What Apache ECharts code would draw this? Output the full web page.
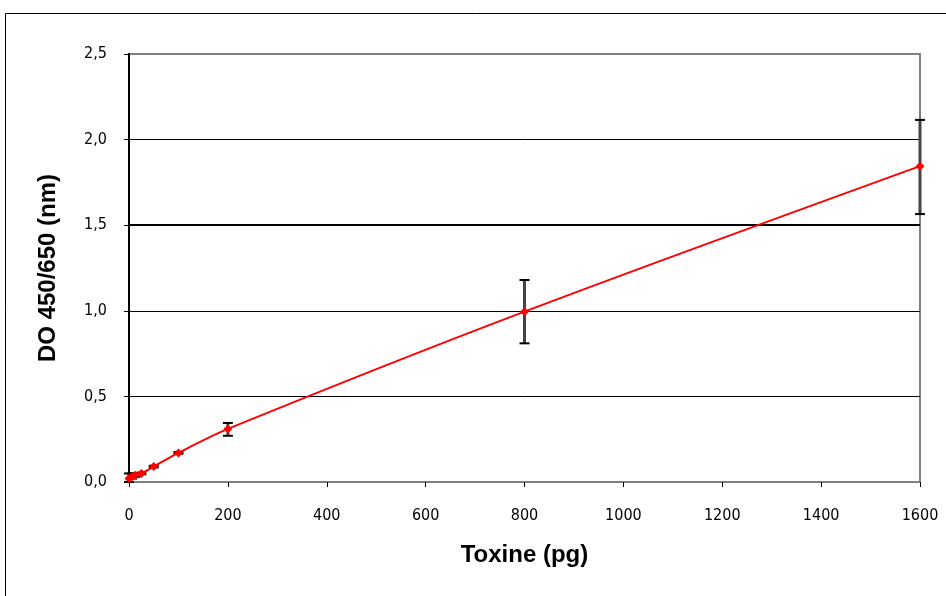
<!DOCTYPE html>
<html>
<head>
<meta charset="utf-8">
<script src="https://cdn.jsdelivr.net/npm/echarts@6/dist/echarts.min.js"></script>
<style>
  html, body { margin: 0; padding: 0; background: #fff; }
  #chart { width: 946px; height: 596px; }
</style>
</head>
<body>
<div id="chart"></div>
<script>
// toxine dose (pg) and optical density
var toxine = [0, 6.25, 12.5, 25, 50, 100, 200, 800, 1600];
var density = [0.02, 0.03, 0.04, 0.05, 0.09, 0.17, 0.31, 0.995, 1.845];
var errLow = [0.0, 0.02, 0.03, 0.045, 0.085, 0.165, 0.27, 0.81, 1.565];
var errHigh = [0.05, 0.05, 0.05, 0.055, 0.095, 0.175, 0.345, 1.18, 2.115];
var gridValues = [0.5, 1.0, 1.5, 2.0];

var chart = echarts.init(document.getElementById("chart"));

var points = toxine.map(function (x, i) { return [x, density[i]]; });
var bars = toxine.map(function (x, i) { return [x, errLow[i], errHigh[i]]; });

var labelFont = "Liberation Sans Narrow, DejaVu Sans Condensed, Liberation Sans";

var option = {
  animation: false,
  backgroundColor: "#fff",
  graphic: [
    {
      type: "rect",
      shape: { x: 5.5, y: 13.5, width: 960, height: 600 },
      style: { fill: "none", stroke: "#000", lineWidth: 1 },
      silent: true
    }
  ],
  grid: {
    left: 129,
    right: 26,
    top: 54,
    bottom: 114,
    show: true,
    borderColor: "#808080",
    borderWidth: 2,
    backgroundColor: "transparent"
  },
  xAxis: {
    type: "value",
    min: 0,
    max: 1600,
    interval: 200,
    name: "Toxine (pg)",
    nameLocation: "middle",
    nameGap: 61,
    nameTextStyle: { fontFamily: "Liberation Sans", fontWeight: "bold", fontSize: 24, color: "#000" },
    axisLine: { lineStyle: { color: "#808080", width: 2 } },
    axisTick: { show: true, length: 5, lineStyle: { color: "#000" } },
    axisLabel: {
      fontFamily: labelFont,
      fontSize: 16,
      color: "#000",
      margin: 26,
      formatter: function (v) { return String(v); }
    },
    splitLine: { show: false }
  },
  yAxis: {
    type: "value",
    min: 0,
    max: 2.5,
    interval: 0.5,
    name: "DO 450/650 (nm)",
    nameLocation: "middle",
    nameGap: 69,
    nameTextStyle: { fontFamily: "Liberation Sans", fontWeight: "bold", fontSize: 24, color: "#000" },
    axisLine: { show: true, lineStyle: { color: "#000", width: 2 } },
    axisTick: { show: true, length: 5, lineStyle: { color: "#000" } },
    axisLabel: {
      fontFamily: labelFont,
      fontSize: 16,
      color: "#000",
      margin: 22,
      formatter: function (v) { return v.toFixed(1).replace(".", ","); }
    },
    splitLine: { show: false }
  },
  series: [
    {
      type: "custom",
      name: "err",
      z: 3,
      data: bars,
      renderItem: function (params, api) {
        var x = api.value(0);
        var lo = api.coord([x, api.value(1)]);
        var hi = api.coord([x, api.value(2)]);
        var w = 5;
        var st = { stroke: "#000", lineWidth: 2 };
        return {
          type: "group",
          children: [
            { type: "line", shape: { x1: lo[0], y1: lo[1], x2: hi[0], y2: hi[1] }, style: { stroke: "#444", lineWidth: 3 } },
            { type: "line", shape: { x1: lo[0] - w, y1: lo[1], x2: lo[0] + w, y2: lo[1] }, style: st },
            { type: "line", shape: { x1: hi[0] - w, y1: hi[1], x2: hi[0] + w, y2: hi[1] }, style: st }
          ]
        };
      }
    },
    {
      type: "line",
      name: "DO",
      z: 4,
      data: points,
      smooth: 0.3,
      symbol: "diamond",
      symbolSize: 9,
      itemStyle: { color: "#ff0000" },
      lineStyle: { color: "#ff0000", width: 2 },
      markLine: {
        silent: true,
        symbol: "none",
        label: { show: false },
        z: 1,
        data: gridValues.map(function (v) {
          return { yAxis: v, lineStyle: { color: "#000", type: "solid", width: v === 1.5 ? 2 : 1 } };
        })
      }
    }
  ]
};

chart.setOption(option);
</script>
</body>
</html>
